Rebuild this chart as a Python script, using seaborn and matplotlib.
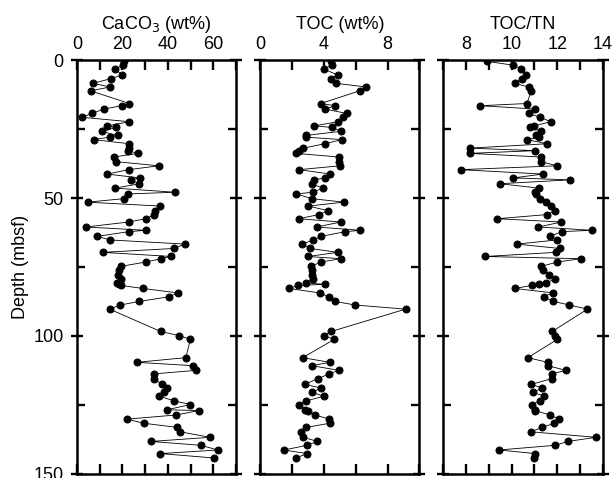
import numpy as np
import pandas as pd
import matplotlib
matplotlib.use("Agg")
import matplotlib.pyplot as plt
import seaborn as sns
from matplotlib.ticker import MultipleLocator

# ==============================
# 1. DATI
# ==============================
depth = [0.4, 1.8, 3.1, 5.4, 6.7, 8.4, 9.7, 11.1, 15.7, 16.5,
         17.7, 19.3, 20.7, 22.3, 23.8, 24.4, 25.8, 27.3, 27.9, 28.8,
         30.3, 31.9, 32.8, 33.8, 35.1, 36.8, 38.3, 39.7, 41.3, 42.7,
         43.4, 44.8, 46.4, 47.9, 48.5, 50.2, 51.5, 52.9, 54.6, 56.0,
         57.5, 58.7, 60.5, 61.7, 62.2, 63.9, 65.2, 66.7, 68.3, 69.7,
         71.2, 72.0, 73.2, 74.8, 76.2, 77.8, 79.4, 80.8, 81.3, 81.7,
         82.8, 84.4, 85.8, 87.5, 88.8, 90.3, 98.4, 99.9, 101.3, 107.9,
         109.6, 110.8, 112.5, 113.8, 115.5, 117.6, 118.9, 120.5, 121.9, 123.6,
         124.9, 126.8, 127.1, 128.7, 130.2, 131.7, 133.2, 134.8, 136.8, 138.3,
         139.7, 141.4, 142.7, 144.3]

caco3 = [20.5, 20.2, 16.9, 19.7, 14.8, 7.1, 14.6, 6.0, 23.1, 19.7,
         11.9, 6.6, 2.2, 23.1, 13.4, 17.3, 10.9, 17.9, 14.4, 7.4,
         23.1, 23.1, 22.6, 26.8, 16.4, 17.3, 36.0, 22.7, 13.4, 27.7,
         23.6, 27.5, 16.9, 43.2, 22.6, 20.8, 4.7, 36.5, 34.5, 34.1,
         30.3, 22.7, 3.9, 30.3, 22.7, 8.9, 14.6, 47.5, 42.5, 11.5,
         41.5, 37.1, 30.3, 19.2, 18.3, 18.0, 19.2, 17.8, 18.5, 19.2,
         29.0, 44.4, 40.6, 27.5, 19.1, 14.4, 36.8, 45.0, 49.9, 47.9,
         26.3, 50.9, 52.4, 33.8, 33.8, 37.4, 39.4, 38.3, 36.2, 42.9,
         49.9, 39.7, 53.6, 43.7, 22.1, 29.4, 44.1, 45.4, 58.5, 32.6,
         54.4, 62.0, 36.7, 60.3]

toc = [4.43, 4.52, 3.98, 4.87, 4.46, 4.79, 6.65, 6.24, 3.81, 4.72,
       4.06, 5.43, 5.22, 4.91, 3.40, 4.52, 5.06, 2.86, 2.86, 5.14,
       4.04, 2.72, 2.47, 2.26, 4.93, 4.97, 5.01, 2.45, 4.41, 4.08,
       3.36, 3.25, 3.92, 3.32, 2.26, 3.23, 5.26, 3.03, 4.27, 3.69,
       2.41, 5.06, 3.54, 6.30, 5.35, 3.83, 3.34, 2.65, 3.15, 4.87,
       2.99, 5.06, 3.83, 3.17, 3.25, 3.25, 3.32, 2.86, 4.08, 2.36,
       1.81, 3.73, 4.31, 4.68, 5.97, 9.13, 4.46, 4.02, 4.64, 2.67,
       4.37, 3.23, 4.95, 4.33, 3.63, 2.80, 3.81, 3.28, 3.98, 2.90,
       2.41, 2.82, 3.03, 3.44, 4.35, 4.37, 2.90, 2.57, 2.72, 3.59,
       2.94, 1.50, 2.94, 2.26]

toc_tn = [8.90, 10.07, 10.42, 10.61, 10.45, 10.13, 10.74, 10.86, 10.67, 8.62,
          11.02, 10.74, 11.25, 11.72, 11.00, 10.80, 11.30, 11.06, 11.22, 10.67,
          11.56, 8.15, 11.02, 8.15, 11.28, 11.28, 12.00, 7.75, 11.37, 10.07,
          12.57, 9.47, 11.20, 11.04, 11.08, 11.25, 11.49, 11.74, 11.91, 11.55,
          9.37, 12.18, 11.17, 13.51, 12.19, 11.69, 12.00, 10.22, 12.12, 11.94,
          8.83, 13.04, 12.00, 11.30, 11.39, 11.62, 11.91, 11.50, 11.21, 10.89,
          10.13, 11.82, 11.40, 11.82, 12.54, 13.33, 11.78, 11.90, 12.00, 10.71,
          11.58, 11.58, 12.38, 11.77, 11.77, 10.86, 11.34, 10.95, 11.42, 11.23,
          10.89, 11.04, 11.02, 11.69, 12.09, 11.88, 11.33, 10.85, 13.70, 12.47,
          11.91, 9.44, 11.04, 10.96]

titles = ["CaCO$_3$ (wt%)", "TOC (wt%)", "TOC/TN"]
xlims = [(0, 70), (0, 10), (7, 14)]
major_steps = [20, 4, 2]
minor_steps = [10, 2, 1]

# ==============================
# 2. STILE
# ==============================
sns.set_style("ticks", {
    "axes.edgecolor": "black",
    "xtick.color": "black",
    "ytick.color": "black",
    "text.color": "black",
    "axes.labelcolor": "black",
})
plt.rcParams['font.family'] = ['Liberation Sans', 'DejaVu Sans']
fs = 13

# ==============================
# 3. GRAFICO
# ==============================
fig, axes = plt.subplots(1, 3, figsize=(6.15, 4.78), dpi=100, sharey=True)
fig.subplots_adjust(left=0.125, right=0.980, top=0.874, bottom=0.009, wspace=0.151)

for i, (ax, vals) in enumerate(zip(axes, [caco3, toc, toc_tn])):
    df = pd.DataFrame({"depth": depth, "value": vals})

    sns.lineplot(
        data=df, x="value", y="depth",
        sort=False, estimator=None, orient="y",
        color="black", linewidth=0.6,
        marker="o", markersize=5, markeredgecolor="black",
        ax=ax
    )

    ax.set_xlim(*xlims[i])
    ax.xaxis.set_major_locator(MultipleLocator(major_steps[i]))
    ax.xaxis.set_minor_locator(MultipleLocator(minor_steps[i]))
    ax.xaxis.set_label_position("top")
    ax.set_xlabel(titles[i], fontsize=fs, labelpad=5)
    ax.tick_params(axis="x", which="both", direction="in", top=True, bottom=True,
                   labeltop=True, labelbottom=False, length=7, width=1.7,
                   labelsize=fs, pad=5)

    ax.yaxis.set_major_locator(MultipleLocator(50))
    ax.yaxis.set_minor_locator(MultipleLocator(25))
    ax.tick_params(axis="y", which="major", direction="inout", left=True, right=True,
                   length=9, width=1.7, labelsize=fs, pad=5)
    ax.tick_params(axis="y", which="minor", direction="in", left=True, right=True,
                   length=6, width=1.7)

    for s in ax.spines.values():
        s.set_linewidth(1.8)

    if i == 0:
        ax.set_ylabel("Depth (mbsf)", fontsize=fs)
        ax.yaxis.set_label_coords(-0.30, 0.5)
    else:
        ax.set_ylabel("")
        ax.tick_params(axis="y", labelleft=False)

axes[0].set_ylim(150, 0)

plt.savefig("out.png", dpi=100)
